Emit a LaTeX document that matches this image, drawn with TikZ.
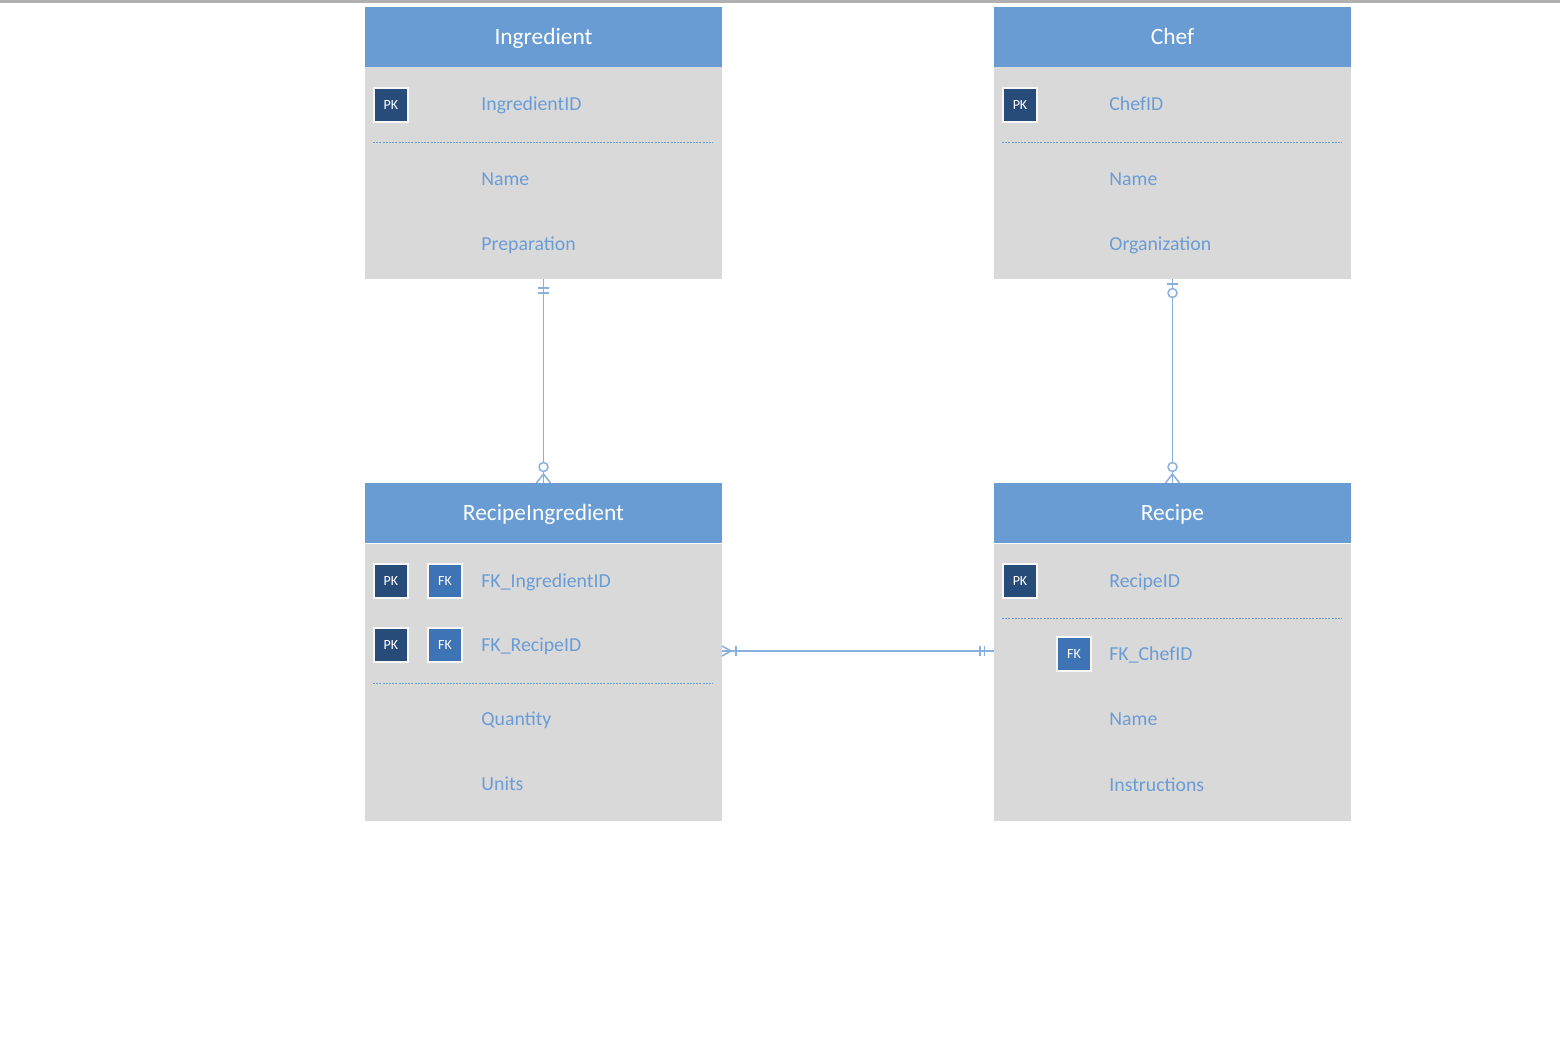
\documentclass[tikz,border=0pt]{standalone}
\usepackage{fontspec}
\setmainfont{Carlito}
\definecolor{hdrblue}{RGB}{104,156,210}
\definecolor{bodygray}{RGB}{217,217,217}
\definecolor{fieldblue}{RGB}{106,156,214}
\definecolor{pkblue}{RGB}{40,76,122}
\definecolor{fkblue}{RGB}{62,115,182}
\definecolor{connblue}{RGB}{138,176,222}
\definecolor{stripgray}{RGB}{176,176,176}
\tikzset{
  hdr/.style={fill=hdrblue, text=white, font=\fontsize{11.7}{14}\selectfont,
    minimum width=178.5pt, minimum height=30pt, inner sep=0pt,
    text height=7.5pt, text depth=0pt},
  tbody/.style={fill=bodygray, minimum width=178.5pt, inner sep=0pt},
  fld/.style={text=fieldblue, font=\fontsize{9.9}{11}\selectfont, anchor=west,
    inner sep=0pt, text height=6.3pt, text depth=0pt},
  keybox/.style={draw=white!80!bodygray, line width=0.7pt, text=white,
    minimum size=17pt, inner sep=0pt, font=\fontsize{7}{8}\selectfont},
  pk/.style={keybox, fill=pkblue},
  fk/.style={keybox, fill=fkblue},
  sep/.style={draw=fieldblue, line width=0.5pt, dash pattern=on 1pt off 0.6pt},
  conn/.style={draw=connblue, line width=0.9pt},
  mk/.style={draw=connblue, line width=0.75pt}
}
\begin{document}
\begin{tikzpicture}[x=0.5pt,y=-0.5pt]
\useasboundingbox (0,0) rectangle (1560,1050);
\fill[white] (0,0) rectangle (1560,1050);
\fill[stripgray] (0,0) rectangle (1560,3);

% ---------- Ingredient ----------
\node[tbody, minimum height=106pt] (ingb) at (543.5,173) {};
\node[hdr] (ingh) at (543.5,37) {Ingredient};
\node[pk] (ingpk) at (391,105) {PK};
\node[fld] (ingf1) at (481,104) {IngredientID};
\draw[sep] (373,142) -- (713,142);
\node[fld] (ingf2) at (481,179) {Name};
\node[fld] (ingf3) at (481,244) {Preparation};

% ---------- Chef ----------
\node[tbody, minimum height=106pt] (chefb) at (1172.5,173) {};
\node[hdr] (chefh) at (1172.5,37) {Chef};
\node[pk] (chefpk) at (1020,105) {PK};
\node[fld] (cheff1) at (1109,104) {ChefID};
\draw[sep] (1002,142) -- (1342,142);
\node[fld] (cheff2) at (1109,179) {Name};
\node[fld] (cheff3) at (1109,244) {Organization};

% ---------- RecipeIngredient ----------
\node[tbody, minimum height=138.5pt] (rib) at (543.5,682) {};
\node[hdr] (rih) at (543.5,513) {RecipeIngredient};
\node[pk] (ripk1) at (391,581) {PK};
\node[fk] (rifk1) at (445,581) {FK};
\node[fld] (rif1) at (481,581) {FK\_IngredientID};
\node[pk] (ripk2) at (391,645) {PK};
\node[fk] (rifk2) at (445,645) {FK};
\node[fld] (rif2) at (481,645) {FK\_RecipeID};
\draw[sep] (373,683) -- (713,683);
\node[fld] (rif3) at (481,719) {Quantity};
\node[fld] (rif4) at (481,784) {Units};

% ---------- Recipe ----------
\node[tbody, minimum height=138.5pt] (recb) at (1172.5,682) {};
\node[hdr] (rech) at (1172.5,513) {Recipe};
\node[pk] (recpk) at (1020,581) {PK};
\node[fld] (recf1) at (1109,581) {RecipeID};
\draw[sep] (1002,618) -- (1342,618);
\node[fk] (recfk) at (1074,654) {FK};
\node[fld] (recf2) at (1109,654) {FK\_ChefID};
\node[fld] (recf3) at (1109,719) {Name};
\node[fld] (recf4) at (1109,785) {Instructions};

% ---------- Connectors ----------
% Ingredient (exactly one) -- RecipeIngredient (zero or many)
\draw[conn] (ingb.south) -- (rih.north);
\draw[mk] (538,288) -- (549,288) (538,293) -- (549,293);
\fill[white] (543.5,467) circle (4.5);
\draw[mk] (543.5,467) circle (4.5);
\draw[mk] (543.5,474) -- (536.5,483) (543.5,474) -- (550.5,483);

% Chef (zero or one) -- Recipe (zero or many)
\draw[conn] (chefb.south) -- (rech.north);
\fill[white] (1172.5,293) circle (4.5);
\draw[mk] (1167,284) -- (1178,284);
\draw[mk] (1172.5,293) circle (4.5);
\fill[white] (1172.5,467) circle (4.5);
\draw[mk] (1172.5,467) circle (4.5);
\draw[mk] (1172.5,474) -- (1165.5,483) (1172.5,474) -- (1179.5,483);

% RecipeIngredient (one or many) -- Recipe (exactly one)
\draw[conn] (rib.east |- 0,651) -- (recb.west |- 0,651);
\draw[mk] (731,651) -- (722,646) (731,651) -- (722,656);
\draw[mk] (736,646) -- (736,656);
\draw[mk] (980,646) -- (980,656) (984.5,646) -- (984.5,656);
\end{tikzpicture}
\end{document}
